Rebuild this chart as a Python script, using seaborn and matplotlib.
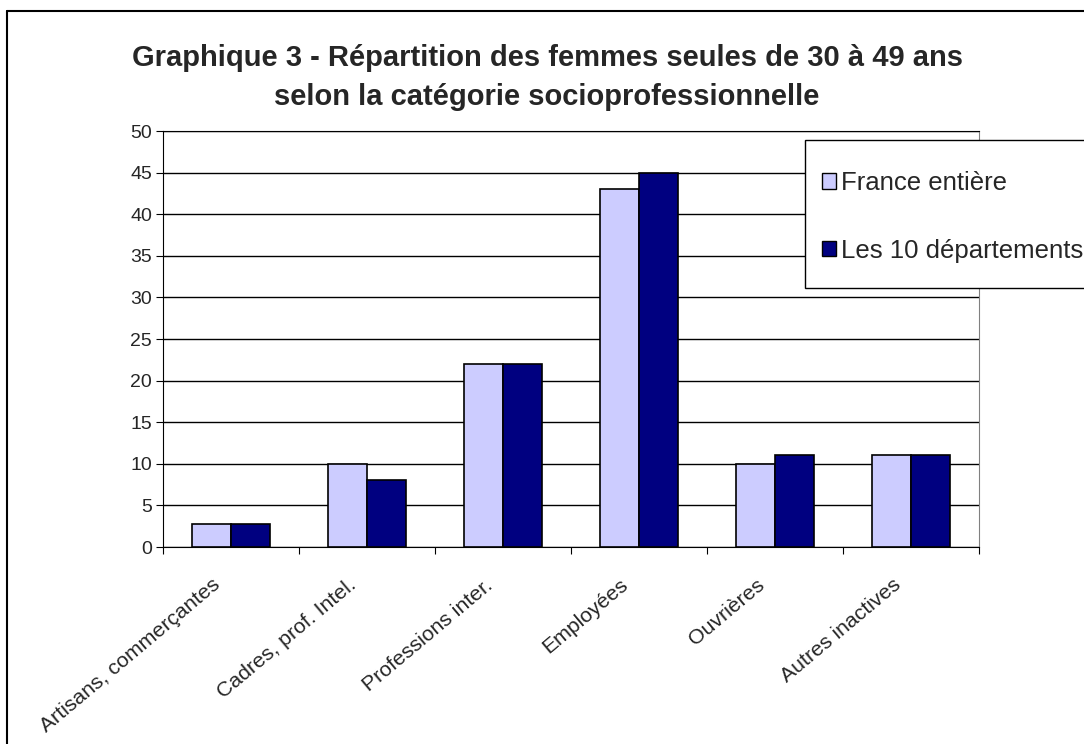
import pandas as pd
import matplotlib.pyplot as plt
import seaborn as sns
from matplotlib.patches import Rectangle
from matplotlib.lines import Line2D

categories = ["Artisans, commerçantes", "Cadres, prof. Intel.", "Professions inter.",
              "Employées", "Ouvrières", "Autres inactives"]
france = [2.8, 10, 22, 43, 10, 11]
departements = [2.8, 8, 22, 45, 11, 11]
series = ["France entière", "Les 10 départements"]
colors = ["#CCCCFF", "#000080"]

df = pd.DataFrame({
    "cat": categories * 2,
    "val": france + departements,
    "serie": [series[0]] * len(categories) + [series[1]] * len(categories),
})

sns.set_style("white")
plt.rcParams["font.family"] = ["Liberation Sans", "DejaVu Sans"]

W, H = 1084, 744
fig = plt.figure(figsize=(W / 100, H / 100), dpi=100)
ax = fig.add_axes([163 / W, 1 - 547 / H, (979 - 163) / W, (547 - 131) / H])

sns.barplot(df, x="cat", y="val", hue="serie", palette=colors, order=categories,
            hue_order=series, width=0.57, edgecolor="black", linewidth=1.2,
            saturation=1, ax=ax, zorder=3)

ax.set_ylim(0, 50)
ax.set_xlim(-0.5, len(categories) - 0.5)
ax.set_yticks(range(0, 51, 5))
ax.yaxis.grid(True, color="black", linewidth=1, zorder=0)
ax.set_axisbelow(True)
ax.set_xlabel("")
ax.set_ylabel("")
ax.tick_params(axis="y", labelsize=14, length=5, direction="out", left=True, color="black", pad=3)

# ticks between categories, labels at centres
ax.set_xticks([i - 0.5 for i in range(len(categories) + 1)])
ax.set_xticklabels([])
ax.tick_params(axis="x", length=5, direction="out", bottom=True, color="black")
for i, c in enumerate(categories):
    ax.text(i - 0.14, -3.4, c, rotation=40, ha="right", va="top", rotation_mode="anchor",
            fontsize=15.3)

for side in ["left", "bottom", "top"]:
    ax.spines[side].set_color("black")
ax.spines["right"].set_color("#808080")

ax.get_legend().remove()
# legend box (runs past the right edge, as in the original)
fig.patches.append(Rectangle((805 / W, 1 - 288 / H), 300 / W, 148 / H, transform=fig.transFigure,
                             facecolor="white", edgecolor="black", linewidth=1, zorder=4))
handles = [Rectangle((0, 0), 1, 1, facecolor=col, edgecolor="black") for col in colors]
fig.legend(handles, series, loc="center left", bbox_to_anchor=(822 / W, 1 - 217 / H),
           fontsize=18.5, frameon=False, labelspacing=1.7, handlelength=0.55,
           handleheight=0.55, handletextpad=0.2, borderpad=0, borderaxespad=0)

fig.text(0.5 + 5 / W, 1 - 58 / H, "Graphique 3 - Répartition des femmes seules de 30 à 49 ans",
         ha="center", va="center", fontsize=21, fontweight="bold")
fig.text(0.5 + 5 / W, 1 - 97 / H, "selon la catégorie socioprofessionnelle",
         ha="center", va="center", fontsize=21, fontweight="bold")

# outer frame: only left and top edges visible
fig.lines.append(Line2D([7 / W, 7 / W], [0, 1 - 11 / H], transform=fig.transFigure,
                        color="black", linewidth=1.5))
fig.lines.append(Line2D([7 / W, 1], [1 - 11 / H, 1 - 11 / H], transform=fig.transFigure,
                        color="black", linewidth=1.5))

fig.savefig("out.png", dpi=100)
